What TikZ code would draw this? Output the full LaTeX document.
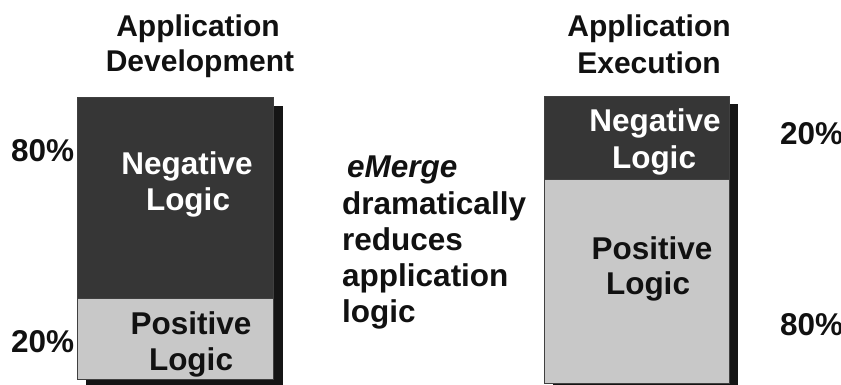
\documentclass[tikz,border=0pt]{standalone}
\usepackage{fontspec}
\setmainfont{Liberation Sans}
\definecolor{negc}{HTML}{363636}
\definecolor{posc}{HTML}{C8C8C8}
\definecolor{shadc}{HTML}{151515}
\definecolor{edgec}{HTML}{404040}
\definecolor{txt}{HTML}{111111}
\begin{document}
\begin{tikzpicture}[x=1pt,y=-1pt,
  big/.style={font=\fontsize{31.5}{35}\selectfont\bfseries, inner sep=0pt, text=txt},
  ttl/.style={font=\fontsize{30}{35}\selectfont\bfseries, inner sep=0pt, text=txt, anchor=base},
  inv/.style={big, text=white, anchor=base},
  dark/.style={big, anchor=base},
  pct/.style={big, anchor=base west},
  mid/.style={big, anchor=base west},
  shadowbox/.style={fill=shadc, draw=none},
  negbox/.style={fill=negc, draw=edgec, line width=0.8pt, anchor=north west, inner sep=0pt},
  posbox/.style={fill=posc, draw=edgec, line width=0.8pt, anchor=north west, inner sep=0pt}]
\useasboundingbox (0,0) rectangle (841,385);
\clip (0,0) rectangle (841,385);
% titles
\node[ttl] (t1a) at (198,37) {Application};
\node[ttl] (t1b) at (200,72) {Development};
\node[ttl] (t2a) at (649,37) {Application};
\node[ttl] (t2b) at (649,74) {Execution};
% left column
\fill[shadowbox] (86,106) rectangle (283,392);
\node[negbox, minimum width=196pt, minimum height=201pt] (ln) at (77,97) {};
\node[posbox, minimum width=196pt, minimum height=81pt] (lp) at (77,298) {};
\node[inv] (ln1) at (187,175) {Negative};
\node[inv] (ln2) at (188,211) {Logic};
\node[dark] (lp1) at (191,334) {Positive};
\node[dark] (lp2) at (191,370) {Logic};
\node[pct] (l80) at (11,161) {80\%};
\node[pct] (l20) at (11,352) {20\%};
% right column
\fill[shadowbox] (553,104) rectangle (738,392);
\node[negbox, minimum width=185pt, minimum height=83pt] (rn) at (544,96) {};
\node[posbox, minimum width=185pt, minimum height=204pt] (rp) at (544,179) {};
\node[inv] (rn1) at (655,132) {Negative};
\node[inv] (rn2) at (654,168) {Logic};
\node[dark] (rp1) at (652,259) {Positive};
\node[dark] (rp2) at (648,294) {Logic};
\node[pct] (r20) at (780,145) {20\%};
\node[pct] (r80) at (780,335) {80\%};
% middle text
\node[mid] (m1) at (347,178) {\itshape eMerge};
\node[mid] (m2) at (342,214) {dramatically};
\node[mid] (m3) at (342,250) {reduces};
\node[mid] (m4) at (342,286) {application};
\node[mid] (m5) at (342,322) {logic};
\end{tikzpicture}
\end{document}
